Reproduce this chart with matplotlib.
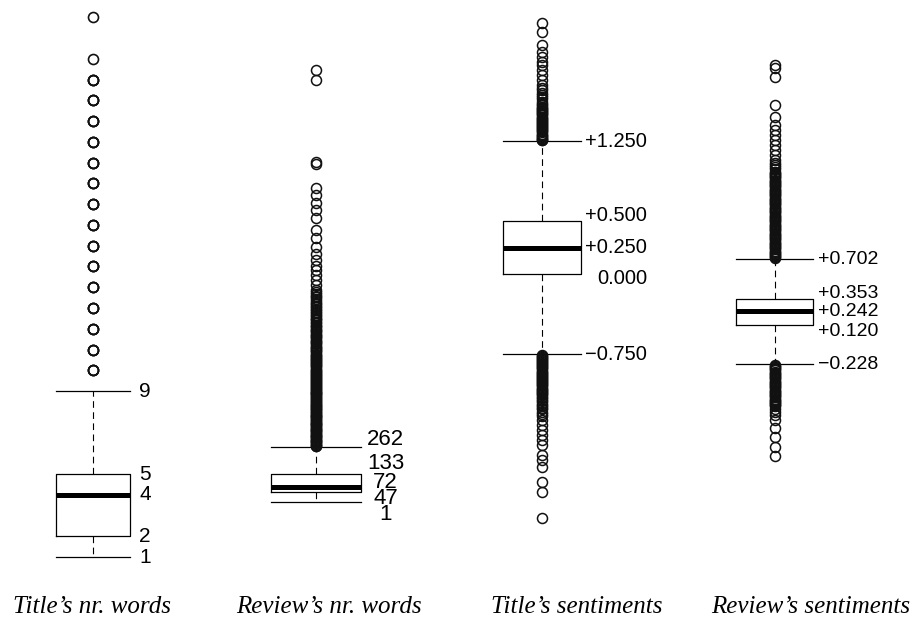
import matplotlib.pyplot as plt

# panel titles (shown under each box)
titles = ["Title’s nr. words", "Review’s nr. words",
          "Title’s sentiments", "Review’s sentiments"]

# five numbers per box: lower whisker, q1, median, q3, upper whisker
title_words = [1, 2, 4, 5, 9]
review_words = [1, 47, 72, 133, 262]
title_sent = [-0.750, 0.000, 0.250, 0.500, 1.250]
review_sent = [-0.228, 0.120, 0.242, 0.353, 0.702]

# printed labels, same order as above
title_words_lab = ["1", "2", "4", "5", "9"]
review_words_lab = ["1", "47", "72", "133", "262"]
title_sent_lab = ["\u22120.750", "0.000", "+0.250", "+0.500", "+1.250"]
review_sent_lab = ["\u22120.228", "+0.120", "+0.242", "+0.353", "+0.702"]

# outliers
title_words_out = [10, 10, 10, 11, 11, 11, 12, 12, 12, 13, 13, 13, 14, 14, 14,
                   15, 15, 15, 16, 16, 16, 17, 17, 17, 18, 18, 18, 19, 19, 19,
                   20, 20, 20, 21, 21, 21, 22, 22, 22, 23, 23, 23, 24, 24, 24,
                   25, 27]
review_words_out = [2050, 2002, 1612, 1604, 1489, 1456, 1418, 1385, 1347, 1290,
                    1252, 1210, 1175, 1147, 1120, 1100, 1075, 1052, 1030,
                    1005, 996, 988, 979, 971, 962, 954, 946, 939, 931, 924, 916,
                    909, 902, 895, 888, 881, 874, 868, 861, 855, 848, 842, 835,
                    829, 823, 817, 811, 805, 799, 793, 787, 781, 776, 770, 764,
                    759, 753, 748, 742, 737, 731, 726, 720, 715, 710, 704, 699,
                    694, 689, 683, 678, 673, 668, 663, 658, 653, 648, 643, 638,
                    633, 628, 623, 618, 613, 608, 603, 598, 594, 589, 584, 579,
                    575, 570, 565, 561, 556, 551, 547, 542, 537, 533, 528, 524,
                    519, 515, 510, 506, 501, 497, 492, 488, 483, 479, 475, 470,
                    466, 461, 457, 453, 448, 444, 440, 435, 431, 427, 423, 418,
                    414, 410, 406, 401, 397, 393, 389, 385, 380, 376, 372, 368,
                    364, 360, 356, 351, 347, 343, 339, 335, 331, 327, 323, 319,
                    315, 311, 307, 303, 299, 295, 291, 287, 283, 279, 275, 271,
                    267, 263]
title_sent_out = [2.355, 2.276, 2.151, 2.088, 2.042, 1.995, 1.964, 1.917, 1.870,
                  1.823, 1.776, 1.750, 1.729, 1.70, 1.68, 1.66, 1.64, 1.62, 1.60,
                  1.585, 1.57, 1.56, 1.55, 1.54, 1.53, 1.52, 1.51, 1.50, 1.49,
                  1.48, 1.47, 1.46, 1.45, 1.44, 1.43, 1.42, 1.41, 1.40, 1.39,
                  1.38, 1.37, 1.36, 1.35, 1.34, 1.33, 1.32, 1.31, 1.30, 1.29,
                  1.28, 1.27, 1.26, 1.255,
                  -0.755, -0.765, -0.775, -0.785, -0.795, -0.805, -0.815, -0.825,
                  -0.835, -0.845, -0.855, -0.865, -0.875, -0.885, -0.895, -0.905,
                  -0.915, -0.925, -0.935, -0.945, -0.955, -0.965, -0.975, -0.985,
                  -0.995, -1.005, -1.015, -1.025, -1.035, -1.045, -1.055, -1.065,
                  -1.075, -1.085, -1.095, -1.105, -1.115, -1.125, -1.135, -1.15,
                  -1.165, -1.18, -1.195, -1.21, -1.225, -1.24, -1.255, -1.27,
                  -1.29, -1.31, -1.33, -1.370, -1.417, -1.464, -1.511, -1.558,
                  -1.604, -1.698, -1.745, -1.811, -1.952, -2.046, -2.290]
review_sent_out = [2.428, 2.398, 2.324, 2.072, 1.968, 1.895, 1.850, 1.806, 1.761,
                   1.717, 1.673, 1.628, 1.584, 1.56, 1.539, 1.52, 1.50,
                   1.48, 1.47, 1.46, 1.45, 1.44, 1.43, 1.42, 1.41, 1.40, 1.39,
                   1.38, 1.37, 1.36, 1.35, 1.34, 1.33, 1.32, 1.31, 1.30, 1.29,
                   1.28, 1.27, 1.26, 1.25, 1.24, 1.23, 1.22, 1.21, 1.20, 1.19,
                   1.18, 1.17, 1.16, 1.15, 1.14, 1.13, 1.12, 1.11, 1.10, 1.09,
                   1.08, 1.07, 1.06, 1.05, 1.04, 1.03, 1.02, 1.01, 1.00, 0.99,
                   0.98, 0.97, 0.96, 0.95, 0.94, 0.93, 0.92, 0.91, 0.90, 0.89,
                   0.88, 0.87, 0.86, 0.85, 0.84, 0.83, 0.82, 0.81, 0.80, 0.79,
                   0.78, 0.77, 0.76, 0.75, 0.74, 0.73, 0.72, 0.71,
                   -0.235, -0.245, -0.255, -0.265, -0.275, -0.285, -0.295, -0.305,
                   -0.315, -0.325, -0.335, -0.345, -0.355, -0.365, -0.375, -0.385,
                   -0.395, -0.405, -0.415, -0.425, -0.435, -0.445, -0.455, -0.465,
                   -0.475, -0.485, -0.495, -0.505, -0.515, -0.525, -0.535, -0.545,
                   -0.555, -0.565, -0.575, -0.585, -0.595, -0.605, -0.63, -0.655,
                   -0.681, -0.725, -0.796, -0.876, -0.965, -1.045]

W, H = 915, 618
fig = plt.figure(figsize=(W / 100, H / 100), dpi=100)
px = 72 / 100  # pixels -> points

# layout per panel: box centre px, box width px, ylim, label dx px,
# label ha, label dy px (per label), label font size, title centre px
panels = [
    dict(stats=title_words, labs=title_words_lab, out=title_words_out,
         cx=93, bw=74, ylim=(-0.108, 27.843), dx=15, ha="center",
         dy=[0, 0, 0, 0, 0], fs=15, tx=92, mew=1.2),
    dict(stats=review_words, labs=review_words_lab, out=review_words_out,
         cx=315.5, bw=90, ylim=(-370.6, 2382.1), dx=25, ha="center",
         dy=[-12.3, -6.3, 4.5, 10, 7.7], fs=16, tx=329, mew=1.1),
    dict(stats=title_sent, labs=title_sent_lab, out=title_sent_out,
         cx=542, bw=78, ylim=(-2.872, 2.574), dx=66, ha="right",
         dy=[0, -4, 0, 5, 0], fs=14.5, tx=577, mew=1.1),
    dict(stats=review_sent, labs=review_sent_lab, out=review_sent_out,
         cx=774.7, bw=77.6, ylim=(-2.146, 3.005), dx=64.7, ha="right",
         dy=[0, -7, 0, 5, 0], fs=14, tx=811, mew=1.1),
]

top, bot = 0, 580
for p, title in zip(panels, titles):
    aw = p["bw"] / 0.8
    ax = fig.add_axes([(p["cx"] - aw / 2) / W, (H - bot) / H, aw / W, (bot - top) / H])
    lo, q1, med, q3, hi = p["stats"]
    st = dict(whislo=lo, q1=q1, med=med, q3=q3, whishi=hi, fliers=p["out"])
    ax.bxp([st], positions=[1], widths=0.8, capwidths=[0.8], manage_ticks=False,
           boxprops=dict(color="black", linewidth=0.9),
           medianprops=dict(color="black", linewidth=3.6, solid_capstyle="butt"),
           whiskerprops=dict(color="black", linewidth=0.8, linestyle=(0, (6, 4))),
           capprops=dict(color="black", linewidth=0.9),
           flierprops=dict(marker="o", markerfacecolor="none",
                           markeredgecolor="#111111", markersize=7.2,
                           markeredgewidth=p["mew"]))
    ax.set_xlim(0.5, 1.5)
    ax.set_ylim(*p["ylim"])
    ax.axis("off")
    for v, lab, d in zip(p["stats"], p["labs"], p["dy"]):
        ax.annotate(lab, xy=(1.4, v), xytext=(p["dx"] * px, d * px),
                    textcoords="offset points", ha=p["ha"], va="center",
                    fontsize=p["fs"], family="Liberation Sans", color="black")
    fig.text(p["tx"] / W, (H - 613) / H, title, ha="center", va="baseline",
             family="Liberation Serif", style="italic", fontsize=18)

fig.savefig("out.png", dpi=100)
